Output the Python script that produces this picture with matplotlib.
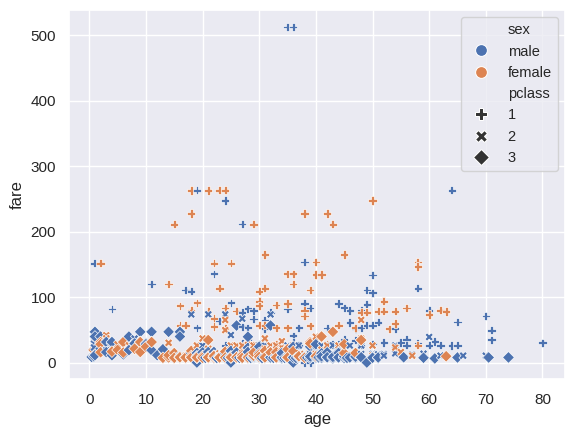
import pandas as pd
import matplotlib
matplotlib.use('Agg')
import matplotlib.pyplot as plt
from matplotlib.lines import Line2D
import seaborn as sns

'''data read off the chart: age / fare per (sex, pclass) group'''
# male, 1st class
m1_age = [35, 36, 19, 64, 24, 27, 0.92, 11, 17, 18, 22, 38, 50, 49, 50, 58, 4, 19, 23, 25,
          27, 27, 28, 28, 29, 29, 31, 31, 32, 36, 37, 38, 39, 35, 44, 45, 46, 48, 49, 42,
          45, 46, 47, 48, 49, 50, 51, 42, 44, 47, 48, 50, 52, 54, 55, 56, 56, 58, 60, 60,
          61, 62, 64, 65, 65, 70, 71, 71, 80, 38, 39, 40, 36, 37, 33, 30, 24, 27, 28, 45,
          36, 43]
m1_fare = [512.33, 512.33, 263.0, 263.0, 247.5, 211.5, 151.6, 120.0, 110.9, 108.9, 135.6, 153.5,
           133.7, 110.9, 106.4, 113.3, 81.9, 53.1, 63.4, 91.1, 76.7, 54.7, 82.2, 53.1, 66.6, 78.9,
           65.0, 52.0, 76.3, 41.0, 53.1, 90.0, 83.2, 81.9, 90.0, 83.5, 79.2, 79.2, 89.1, 52.6,
           35.5, 61.2, 52.0, 53.1, 56.9, 57.0, 61.4, 26.55, 27.7, 34.0, 26.55, 28.7, 30.5, 51.9,
           30.5, 35.5, 26.55, 29.7, 26.55, 79.2, 32.3, 26.55, 26.0, 26.55, 62.0, 71.0, 49.5, 34.65,
           30.0, 0.0, 0.0, 27.7, 26.3, 26.55, 26.55, 27.75, 26.0, 30.0, 35.5, 26.55, 30.7, 27.7]

# female, 1st class
f1_age = [18, 21, 23, 24, 18, 38, 42, 15, 29, 43, 50, 2, 22, 25, 31, 45, 14, 36, 35,
          36, 40, 41, 40, 58, 58, 39, 23, 31, 30, 30, 30, 16, 16, 17, 18, 19, 21, 22, 22,
          24, 24, 26, 33, 35, 38, 38, 39, 30, 31, 33, 35, 44, 47, 48, 49, 51, 52, 52, 53,
          54, 56, 58, 60, 62, 63, 54, 40, 33, 42, 29]
f1_fare = [262.4, 262.4, 263.0, 263.0, 227.5, 227.5, 227.5, 211.3, 211.3, 211.3, 247.5,
           151.6, 151.6, 151.6, 164.9, 164.9, 120.0, 120.0, 135.6, 135.6, 134.5, 134.5, 153.5,
           153.5, 146.5, 110.9, 113.3, 113.3, 108.9, 93.5, 86.5, 86.5, 57.0, 57.0, 79.65, 91.1,
           77.9, 67.4, 55.0, 83.2, 52.0, 78.85, 87.8, 90.0, 80.0, 71.0, 56.0, 56.9, 57.0, 53.1,
           53.1, 57.0, 53.1, 76.7, 76.7, 78.3, 78.3, 93.5, 51.5, 59.4, 83.2, 26.55, 73.5, 80.0,
           78.0, 78.3, 26.55, 27.7, 28.0, 26.0]

# male, 2nd class
m2_age = [0.83, 1, 2, 3, 0.67, 8, 3, 0.83, 16, 18, 18, 19, 19, 21, 21, 23, 23, 24, 25, 25,
          25, 27, 27, 27, 28, 28, 29, 30, 30, 31, 31, 32, 32, 34, 34, 35, 36, 36, 37, 38,
          39, 40, 42, 42, 43, 44, 45, 46, 47, 48, 50, 51, 52, 54, 57, 59, 60, 62, 66, 70,
          23, 34, 54, 18, 20, 22, 24, 26, 28, 30, 33, 35, 38, 40, 44, 48, 25, 29, 33, 36,
          41, 47, 52, 20, 24, 32, 39]
m2_fare = [29.0, 39.0, 26.0, 26.0, 14.5, 36.75, 18.75, 23.0, 10.5, 73.5, 11.5, 10.5, 13.0, 73.5,
           11.5, 13.0, 10.5, 73.5, 13.0, 26.0, 42.0, 13.0, 26.0, 67.0, 13.0, 10.5, 21.0, 13.0,
           10.5, 26.25, 10.5, 73.5, 13.0, 21.0, 13.0, 26.0, 13.0, 10.5, 26.0, 13.0, 26.0, 16.0,
           13.0, 27.0, 26.25, 26.0, 13.5, 26.0, 15.0, 13.0, 13.0, 12.5, 13.0, 26.0, 12.35, 13.5,
           39.0, 10.5, 10.5, 10.5, 15.05, 23.0, 14.0, 13.0, 13.0, 13.0, 10.5, 13.0, 13.0, 26.0,
           13.0, 10.5, 13.0, 26.0, 13.0, 26.0, 26.0, 13.0, 21.0, 13.0, 26.0, 13.0, 10.5, 26.0,
           13.0, 21.0, 13.0]

# female, 2nd class
f2_age = [2, 3, 3, 4, 5, 7, 8, 13, 14, 17, 18, 19, 20, 21, 22, 23, 24, 24, 24, 25,
          26, 27, 28, 29, 30, 31, 32, 33, 34, 34, 35, 36, 38, 40, 40, 41, 42, 44, 45, 48,
          48, 50, 50, 54, 55, 57, 28, 31, 24, 27, 32, 36]
f2_fare = [26.0, 41.58, 37.0, 23.0, 27.75, 26.25, 26.25, 19.5, 30.07, 10.5, 13.0, 26.0, 36.75,
           21.0, 10.5, 13.79, 14.5, 65.0, 49.5, 26.0, 26.0, 21.0, 26.0, 26.0, 13.0, 21.0, 26.0,
           26.0, 23.0, 32.5, 21.0, 26.0, 13.0, 13.0, 39.4, 19.5, 26.0, 26.0, 13.5, 65.0, 36.75,
           10.5, 26.0, 23.0, 16.0, 10.5, 33.0, 36.75, 13.0, 26.0, 13.0, 13.0]

# male, 3rd class
m3_age = [1, 9, 11, 14, 16, 1, 2, 7, 16, 0.42, 2, 4, 8, 10, 2, 9, 3, 4, 11, 6,
          1, 4, 3, 10, 11, 12, 6, 13, 14, 0.83, 7, 15, 16, 16, 17, 17, 18, 18, 18, 19,
          19, 19, 19, 20, 20, 20, 20, 21, 21, 21, 21, 22, 22, 22, 22, 23, 23, 23, 24, 24,
          24, 24, 25, 25, 25, 25, 25, 26, 26, 26, 26, 26, 27, 27, 27, 28, 28, 28, 28, 29,
          29, 29, 30, 30, 30, 30, 31, 31, 32, 32, 32, 32, 33, 33, 33, 34, 34, 35, 35, 35,
          36, 36, 36, 37, 37, 38, 38, 39, 39, 40, 40, 40, 41, 41, 42, 42, 43, 43, 44, 44,
          45, 45, 45.5, 47, 47, 48, 48, 49, 50, 51, 51, 55.5, 59, 61, 65, 70.5, 74, 42, 44, 28,
          16, 17, 18, 19, 20, 21, 22, 23, 24, 25, 26, 27, 28, 29, 30, 31, 32, 33, 34, 35,
          36, 37, 38, 39, 40, 42, 44, 46, 48, 50, 18, 20, 22, 24, 26, 28, 30, 32, 34, 19,
          21, 23, 25, 27, 29, 31, 33, 35, 37, 39, 41, 43, 45, 20.5, 22.5, 24.5, 26.5, 28.5,
          30.5, 32.5, 34.5, 36.5, 38.5, 40.5]
m3_fare = [46.9, 46.9, 46.9, 46.9, 46.9, 39.69, 39.69, 39.69, 39.69, 8.52, 29.13, 29.13, 29.13,
           29.13, 21.08, 31.39, 31.39, 31.28, 31.28, 31.28, 11.13, 11.13, 15.9, 27.9, 18.79,
           11.24, 12.48, 20.25, 7.85, 9.35, 19.0, 7.23, 8.05, 9.5, 7.05, 8.66, 7.75, 8.05, 7.8,
           7.9, 8.05, 14.5, 0.0, 7.85, 8.05, 9.22, 7.23, 7.8, 8.05, 7.73, 16.1, 7.25, 7.8, 9.0,
           7.9, 7.55, 7.85, 9.22, 7.5, 8.05, 16.1, 7.14, 7.05, 7.25, 7.65, 0.0, 17.8, 7.78, 8.05,
           56.5, 14.45, 7.9, 7.8, 6.98, 8.66, 7.9, 7.25, 9.5, 22.5, 7.9, 7.05, 9.48, 7.9, 8.05,
           7.23, 24.15, 7.78, 7.75, 7.9, 56.5, 8.05, 15.85, 7.9, 8.05, 9.5, 8.05, 6.5, 7.05, 8.05,
           7.13, 7.9, 0.0, 24.15, 7.93, 9.59, 7.9, 8.66, 7.93, 24.15, 7.9, 9.48, 27.9, 14.1, 7.13,
           7.55, 8.66, 8.05, 6.45, 8.05, 16.1, 8.05, 6.98, 7.23, 7.25, 9.0, 7.85, 34.4, 0.0, 8.05,
           7.05, 7.75, 8.05, 7.25, 6.24, 7.75, 7.75, 7.78, 15.5, 14.5, 39.4,
           7.75, 8.05, 7.9, 7.25, 7.85, 8.05, 7.75, 7.9, 7.05, 8.05, 7.9, 7.25, 7.75, 8.05,
           7.9, 7.75, 7.85, 8.05, 7.9, 7.25, 7.75, 8.05, 7.9, 7.05, 7.75, 8.05, 7.9, 7.75,
           8.05, 7.25, 14.45, 15.5, 16.1, 14.5, 15.25, 16.1, 14.45, 15.5, 14.5, 9.5, 9.22,
           8.66, 9.5, 9.84, 8.66, 9.48, 9.5, 8.66, 9.59, 9.22, 9.48, 8.66, 9.5, 7.23, 7.05,
           7.13, 7.23, 7.05, 6.98, 7.23, 7.13, 7.05, 7.23, 7.75]

# female, 3rd class
f3_age = [2, 9, 11, 6, 4, 2, 9, 0.75, 5, 8, 2, 6, 10, 13, 14, 14, 15, 15, 16, 16,
          17, 18, 18, 18, 19, 20, 21, 21, 22, 22, 22, 23, 24, 25, 26, 26, 27, 29, 29, 30,
          30, 31, 32, 33, 35, 36, 37, 38, 39, 39, 40, 41, 43, 45, 45, 47, 48, 63, 17, 19,
          21, 23, 25, 27, 28, 31, 33, 35, 24, 20]
f3_fare = [31.28, 31.28, 31.28, 31.28, 16.7, 27.9, 16.1, 19.26, 19.26, 21.08, 15.74, 15.25, 24.15,
           7.23, 7.85, 11.24, 14.45, 7.23, 7.75, 8.05, 7.73, 17.8, 9.84, 7.8, 7.88, 9.82, 7.65,
           34.38, 10.52, 7.75, 9.84, 7.92, 16.7, 7.93, 7.93, 8.05, 11.13, 10.46, 15.25, 12.48,
           8.66, 18.0, 15.5, 15.85, 20.25, 17.4, 9.59, 7.23, 31.28, 29.13, 9.48, 39.69, 46.9,
           14.45, 27.9, 14.5, 34.4, 9.59, 7.75, 7.75, 7.88, 7.75, 7.93, 7.23, 7.75, 7.85, 7.78,
           7.88, 7.75, 7.23]

'''build table'''
groups = [
    ('male', 1, m1_age, m1_fare), ('female', 1, f1_age, f1_fare),
    ('male', 2, m2_age, m2_fare), ('female', 2, f2_age, f2_fare),
    ('male', 3, m3_age, m3_fare), ('female', 3, f3_age, f3_fare),
]
frames = []
for sex, pclass, ages, fares in groups:
    frames.append(pd.DataFrame({'age': ages, 'fare': fares, 'sex': sex, 'pclass': pclass}))
df = pd.concat(frames, ignore_index=True)
df = df.sort_values('age', kind='stable')

'''plotting'''
sns.set_theme()
plt.rcParams['font.family'] = ['Liberation Sans', 'DejaVu Sans']
pal = sns.color_palette()
fig = plt.figure(figsize=(5.75, 4.37), dpi=100)
ax = fig.add_subplot(111)
fig.subplots_adjust(left=0.1202, right=0.9826, top=0.9767, bottom=0.132)
sns.scatterplot(data=df, x='age', y='fare', hue='sex', style='pclass',
                hue_order=['male', 'female'], style_order=[1, 2, 3],
                markers=['P', 'X', 'D'], legend=False, ax=ax)

'''legend like seaborn's: titles as blank entries'''
def blank(label):
    return Line2D([], [], linestyle='', marker='', label=label)

def mk(marker, color, label, size=8):
    return Line2D([], [], linestyle='', marker=marker, color=color,
                  markeredgecolor='w', markeredgewidth=0.75, markersize=size, label=label)

handles = [blank('sex'), mk('o', pal[0], 'male', 8.5), mk('o', pal[1], 'female', 8.5),
           blank('pclass'), mk('P', '.2', '1'), mk('X', '.2', '2'), mk('D', '.2', '3')]
ax.legend(handles=handles, loc='upper right', fontsize=10.5)
fig.savefig('out.png', dpi=100)
